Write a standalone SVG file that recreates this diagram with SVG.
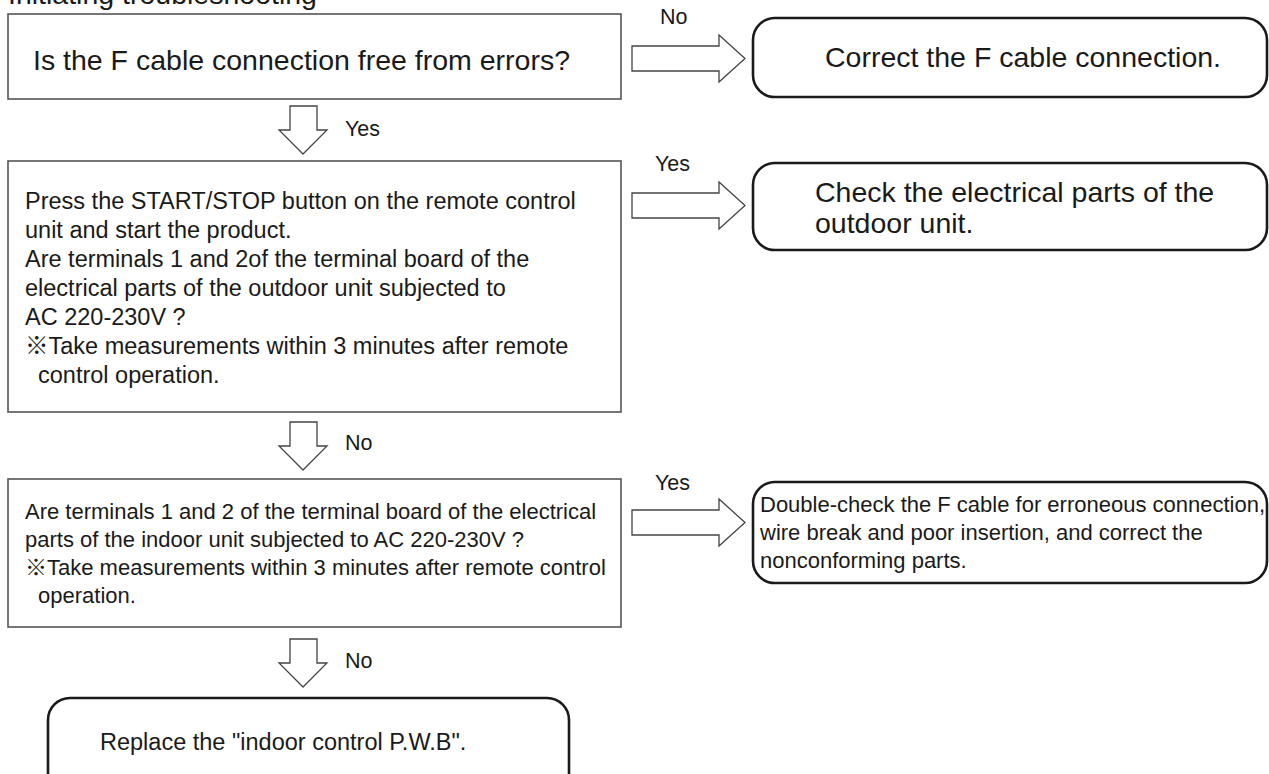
<svg xmlns="http://www.w3.org/2000/svg" width="1269" height="774" viewBox="0 0 1269 774">
<style>
text{font-family:"Liberation Sans",Arial,"Noto Sans CJK JP",sans-serif;fill:#1a1a1a}
.box{fill:#fff;stroke:#555;stroke-width:1.6}
.rbox{fill:#fff;stroke:#1a1a1a;stroke-width:2.6}
.arr{fill:#fff;stroke:#444;stroke-width:1.3;stroke-linejoin:miter}
.big{font-size:28.5px}
.mid{font-size:23.5px}
.sm{font-size:22px}
.lbl{font-size:21.5px}
</style>
<rect width="1269" height="774" fill="#fff"/>
<text class="big" x="8" y="4">Initiating troubleshooting</text>

<g id="connectors">
  <path class="arr" d="M632,46 H719 V35 L745,58.5 L719,82 V71 H632 Z"/>
  <text class="lbl" x="660" y="24">No</text>
  <path class="arr" d="M290,106 H317 V130 H327 L303,154 L279,130 H290 Z"/>
  <text class="lbl" x="345" y="136">Yes</text>
  <path class="arr" d="M632,193 H719 V182 L745,205.5 L719,229 V218 H632 Z"/>
  <text class="lbl" x="655" y="171">Yes</text>
  <path class="arr" d="M290,422 H317 V446 H327 L303,470 L279,446 H290 Z"/>
  <text class="lbl" x="345" y="450">No</text>
  <path class="arr" d="M632,510 H719 V499 L745,522.5 L719,546 V535 H632 Z"/>
  <text class="lbl" x="655" y="490">Yes</text>
  <path class="arr" d="M290,639 H317 V663 H327 L303,687 L279,663 H290 Z"/>
  <text class="lbl" x="345" y="668">No</text>
</g>

<g id="q1">
  <rect class="box" x="8" y="14" width="613" height="85"/>
  <text class="big" x="33" y="70">Is the F cable connection free from errors?</text>
</g>
<g id="a1">
  <rect class="rbox" x="753" y="18" width="514" height="79" rx="22"/>
  <text class="big" x="825" y="67">Correct the F cable connection.</text>
</g>
<g id="q2">
  <rect class="box" x="8" y="161" width="613" height="251"/>
  <text class="mid" x="25" y="209">Press the START/STOP button on the remote control</text>
  <text class="mid" x="25" y="238">unit and start the product.</text>
  <text class="mid" x="25" y="267">Are terminals 1 and 2of the terminal board of the</text>
  <text class="mid" x="25" y="296">electrical parts of the outdoor unit subjected to</text>
  <text class="mid" x="25" y="325">AC 220-230V ?</text>
  <text class="mid" x="25" y="354">※Take measurements within 3 minutes after remote</text>
  <text class="mid" x="38" y="383">control operation.</text>
</g>
<g id="a2">
  <rect class="rbox" x="753" y="163" width="514" height="87" rx="22"/>
  <text class="big" x="815" y="202">Check the electrical parts of the</text>
  <text class="big" x="815" y="233">outdoor unit.</text>
</g>
<g id="q3">
  <rect class="box" x="8" y="479" width="613" height="148"/>
  <text class="sm" x="25" y="519">Are terminals 1 and 2 of the terminal board of the electrical</text>
  <text class="sm" x="25" y="547">parts of the indoor unit subjected to AC 220-230V ?</text>
  <text class="sm" x="25" y="575">※Take measurements within 3 minutes after remote control</text>
  <text class="sm" x="38" y="603">operation.</text>
</g>
<g id="a3">
  <rect class="rbox" x="753" y="482" width="514" height="101" rx="22"/>
  <text class="sm" x="760" y="512">Double-check the F cable for erroneous connection,</text>
  <text class="sm" x="760" y="540">wire break and poor insertion, and correct the</text>
  <text class="sm" x="760" y="568">nonconforming parts.</text>
</g>
<g id="a4">
  <rect class="rbox" x="48" y="698" width="521" height="110" rx="22"/>
  <text class="mid" x="100" y="750">Replace the "indoor control P.W.B".</text>
</g>
</svg>
